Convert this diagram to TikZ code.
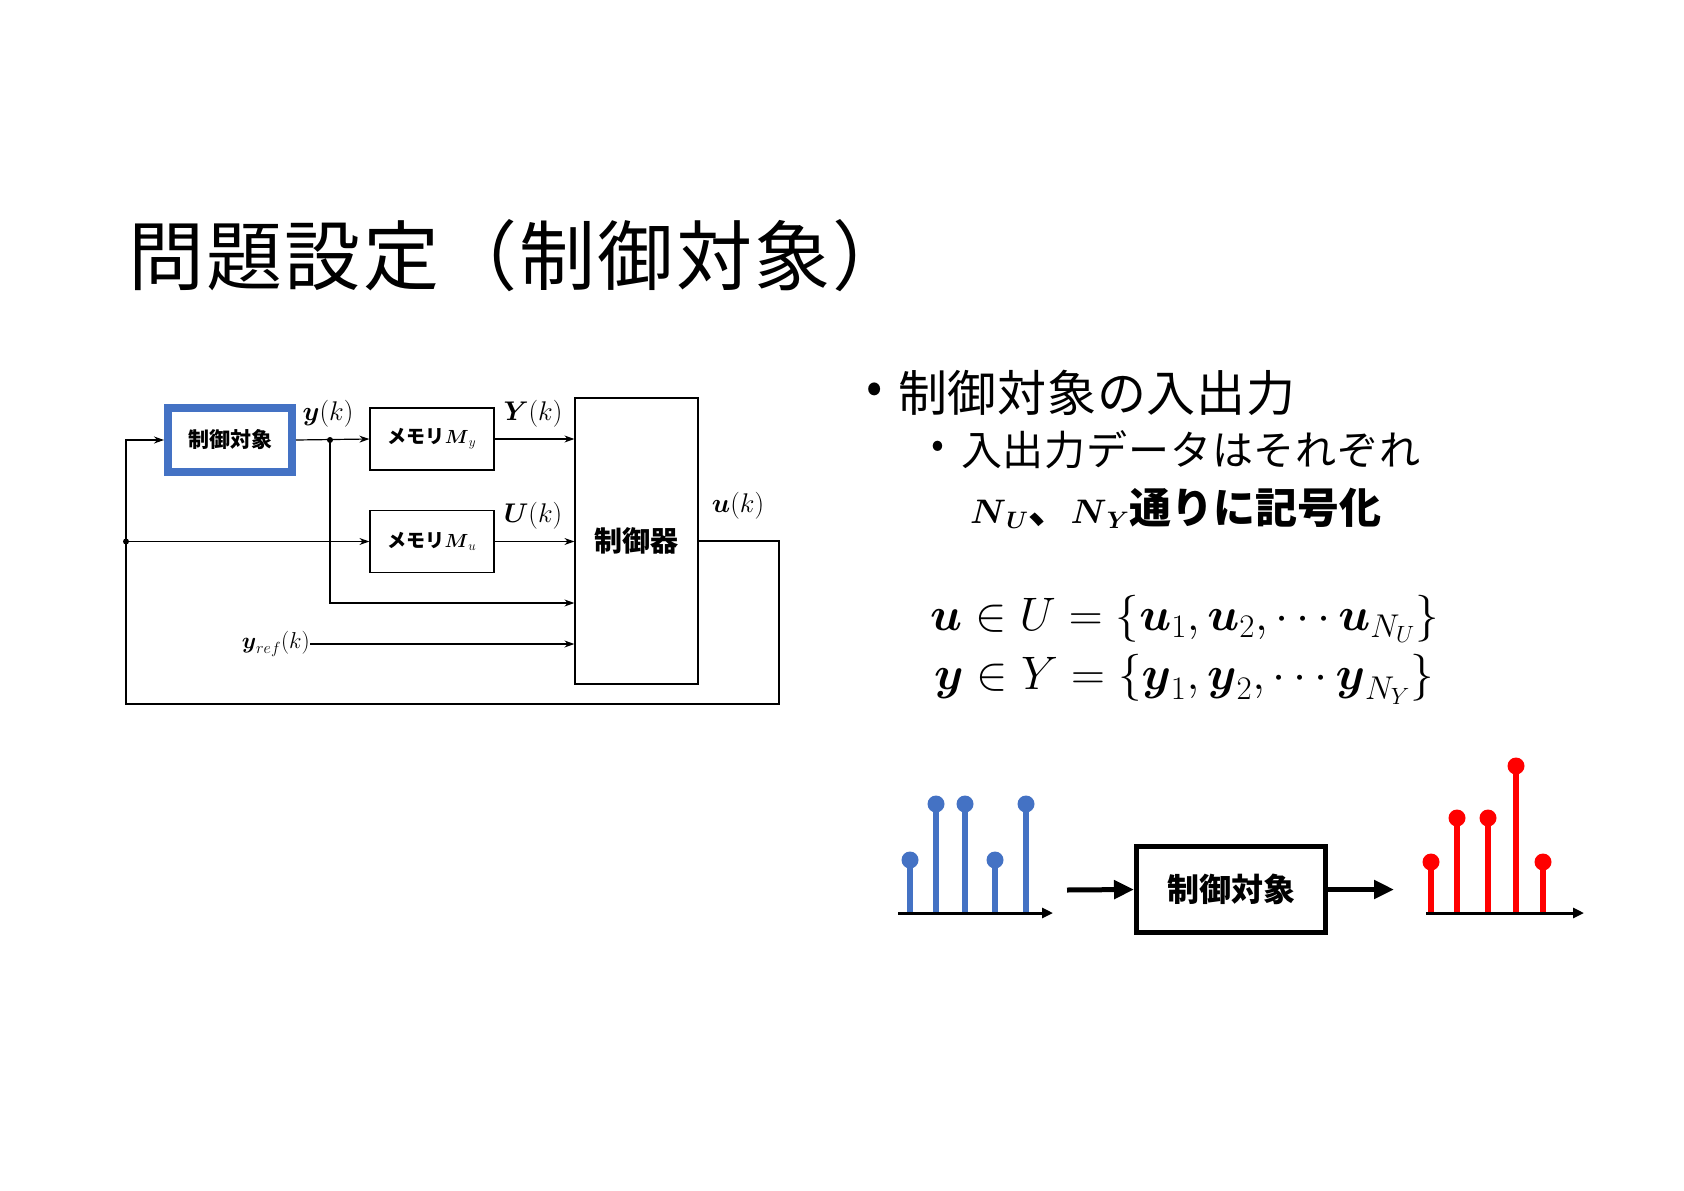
\RequirePackage{fix-cm}
\documentclass[tikz,border=0pt]{standalone}
\usepackage{amsmath}
\usepackage[no-math]{fontspec}
\newfontfamily\jp{Noto Sans CJK JP}
\usepackage{tikz}
\usetikzlibrary{arrows.meta, positioning}
\definecolor{plantblue}{HTML}{4472C4}
\definecolor{outred}{HTML}{FF0000}

\begin{document}
\begin{tikzpicture}[
      x = 1pt, y = -1pt,
      txt/.style   = {inner sep = 0pt},
      plant/.style = {draw = plantblue, line width = 8pt, minimum width = 124pt,
                      minimum height = 64pt, inner sep = 0pt,
                      font = \jp\bfseries\fontsize{21}{24}\selectfont},
      mem/.style   = {draw = black, line width = 1.2pt, minimum width = 124pt,
                      minimum height = 62pt, inner sep = 0pt,
                      font = \jp\bfseries\fontsize{19}{22}\selectfont},
      ctrlbox/.style = {draw = black, line width = 1.2pt, minimum width = 123pt,
                      minimum height = 286pt, inner sep = 0pt,
                      font = \jp\bfseries\fontsize{28}{32}\selectfont},
      sig/.style   = {inner sep = 0pt, font = \fontsize{27}{32}\selectfont},
      arr/.style   = {-{Stealth[length = 10pt, width = 7pt]}, line width = 1.2pt},
      bstem/.style = {line width = 5.5pt, plantblue},
      rstem/.style = {line width = 5.5pt, outred},
      axis/.style  = {-{Triangle[length = 11pt, width = 10pt]}, line width = 3pt},
      fat/.style   = {-{Triangle[length = 20pt, width = 18pt]}, line width = 5pt},
      sysbox/.style = {draw = black, line width = 5pt, minimum width = 189pt,
                      minimum height = 86pt, inner sep = 0pt,
                      font = \jp\bfseries\fontsize{32}{36}\selectfont}
    ]
  \useasboundingbox (0,0) rectangle (1684,1191);

  % title ---------------------------------------------------------------
  \node[txt, anchor = west,
        font = \jp\addfontfeature{LetterSpace = 3}\fontsize{76}{84}\selectfont] (title)
        at (128,256) {問題設定（制御対象）};

  % block diagram ---------------------------------------------------------
  \node[plant] (plant) at (230,440) {制御対象};
  \node[mem] (memy) at (432,439) {メモリ$\boldsymbol{M}_y$};
  \node[mem] (memu) at (432,541.5) {メモリ$\boldsymbol{M}_u$};
  \node[ctrlbox] (ctrl) at (636.5,541) {制御器};

  \node[sig] (yk) at (328,414) {$\boldsymbol{y}(k)$};
  \node[sig] (Yk) at (533,414) {$\boldsymbol{Y}(k)$};
  \node[sig] (Uk) at (533,516) {$\boldsymbol{U}(k)$};
  \node[sig] (uk) at (738,506) {$\boldsymbol{u}(k)$};
  \node[sig, anchor = east, font = \fontsize{23}{27}\selectfont] (yref)
        at (310,644) {$\boldsymbol{y}_{ref}(k)$};

  \coordinate (br)  at (330,440);
  \coordinate (jn)  at (126,541.5);
  \coordinate (in3) at (330,603);
  \coordinate (fbr) at (779,704);
  \coordinate (fbl) at (126,704);

  \draw[arr] (plant.east) -- (memy.west);
  \draw[arr] (memy.east) -- (memy.east -| ctrl.west);
  \draw[arr] (memu.east) -- (memu.east -| ctrl.west);
  \draw[arr] (br) |- (in3 -| ctrl.west);
  \draw[arr] (yref.east) -- (yref.east -| ctrl.west);
  \draw[arr] (ctrl.east) -| (fbr) -- (fbl) |- (plant.west);
  \draw[arr] (jn) -- (memu.west);
  \fill (br) circle (3pt);
  \fill (jn) circle (3pt);

  % bullets ---------------------------------------------------------------
  \node[txt, font = \jp\fontsize{48}{54}\selectfont] (dot1) at (875,393) {•};
  \node[txt, anchor = west,
        font = \jp\addfontfeature{LetterSpace = 1.5}\fontsize{49}{55}\selectfont] (io)
        at (898,393) {制御対象の入出力};
  \node[txt, font = \jp\fontsize{38}{44}\selectfont] (dot2) at (938,449) {•};
  \node[txt, anchor = west,
        font = \jp\addfontfeature{LetterSpace = 2}\fontsize{41}{47}\selectfont] (data)
        at (961,450) {入出力データはそれぞれ};
  \node[txt, anchor = west, font = \jp\bfseries\fontsize{42}{48}\selectfont] (count)
        at (970,508) {{\fontsize{34}{38}\selectfont$\boldsymbol{N}_{\boldsymbol{U}}$}、{\fontsize{34}{38}\selectfont$\boldsymbol{N}_{\boldsymbol{Y}}$}通りに記号化};

  \node[txt, anchor = base west, font = \fontsize{47}{55}\selectfont] (equ)
        at (930,630.5)
        {$\boldsymbol{u}\in U=\{\boldsymbol{u}_1,\boldsymbol{u}_2,\cdots\boldsymbol{u}_{N_U}\}$};
  \node[txt, anchor = base west, font = \fontsize{47}{55}\selectfont] (eqy)
        at (934,689)
        {$\boldsymbol{y}\in Y=\{\boldsymbol{y}_1,\boldsymbol{y}_2,\cdots\boldsymbol{y}_{N_Y}\}$};

  % input / output sequences ---------------------------------------------
  \foreach \px/\py in {910/860, 936/804, 965/804, 995/860, 1026/804} {
    \draw[bstem] (\px,913) -- (\px,\py);
    \fill[plantblue] (\px,\py) circle (8.5pt);
  }
  \draw[axis] (898,913) -- (1053,913);

  \node[sysbox] (sys) at (1231,889.5) {制御対象};
  \coordinate (sin)  at (1067,890);
  \coordinate (sout) at (1394,889.5);
  \draw[fat] (sin) -- (sys.west);
  \draw[fat] (sys.east) -- (sout);

  \foreach \px/\py in {1431/862, 1457/818, 1488/818, 1516/766, 1543/862} {
    \draw[rstem] (\px,913) -- (\px,\py);
    \fill[outred] (\px,\py) circle (8.5pt);
  }
  \draw[axis] (1426,913) -- (1584,913);

  \end{tikzpicture}
\end{document}
